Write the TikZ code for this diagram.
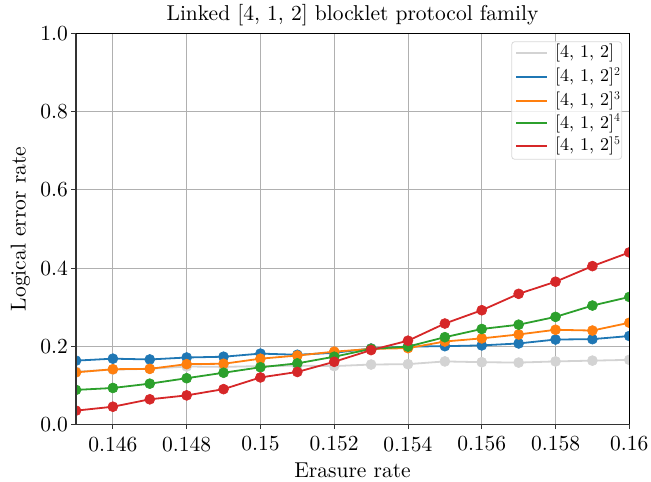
\documentclass[tikz,border=0pt]{standalone}
\usepackage{fontspec}
\setmainfont{lmroman10-regular.otf}
\usetikzlibrary{calc}
\definecolor{cgray}{HTML}{D3D3D3}
\definecolor{cblue}{HTML}{1F77B4}
\definecolor{corange}{HTML}{FF7F0E}
\definecolor{cgreen}{HTML}{2CA02C}
\definecolor{cred}{HTML}{D62728}
\definecolor{gridc}{HTML}{B0B0B0}
\tikzset{
  gridline/.style={draw=gridc, line width=0.9pt},
  series/.style={line width=1.8pt, draw=#1, mark=*, mark size=5pt,
                 mark options={solid, fill=#1, draw=#1, line width=0.6pt}},
  ticklab/.style={font=\fontsize{21.5}{26}\selectfont, inner sep=0pt},
  titlelab/.style={font=\fontsize{21.5}{26}\selectfont, inner sep=0pt},
  leglab/.style={font=\fontsize{18}{21}\selectfont, inner sep=0pt, anchor=west},
  legline/.style={line width=1.8pt, draw=#1},
}
\begin{document}
\begin{tikzpicture}[x=1pt, y=1pt]
\useasboundingbox (0,0) rectangle (651,482);
% axes area: x index 0..15 <-> 0.145..0.160, y value 0..1
\begin{scope}[shift={(76,57.7)}, x=36.887pt, y=390.6pt]
  \coordinate (ll) at (0,0);
  \coordinate (ur) at (15,1);
  % grid
  \foreach \i in {1,3,...,15} \draw[gridline] (\i,0) -- (\i,1);
  \foreach \v in {0,0.2,...,1.0} \draw[gridline] (0,\v) -- (15,\v);
  % data
  \begin{scope}
    \clip (ll) rectangle (ur);
    \draw[series=cgray] plot coordinates {(0,0.135) (1,0.140) (2,0.142) (3,0.148) (4,0.147) (5,0.149) (6,0.150) (7,0.149) (8,0.153) (9,0.154) (10,0.161) (11,0.159) (12,0.158) (13,0.161) (14,0.163) (15,0.165)};
    \draw[series=cblue] plot coordinates {(0,0.163) (1,0.168) (2,0.166) (3,0.171) (4,0.173) (5,0.181) (6,0.178) (7,0.183) (8,0.194) (9,0.199) (10,0.200) (11,0.202) (12,0.207) (13,0.217) (14,0.218) (15,0.226)};
    \draw[series=corange] plot coordinates {(0,0.133) (1,0.141) (2,0.142) (3,0.154) (4,0.155) (5,0.168) (6,0.176) (7,0.186) (8,0.193) (9,0.195) (10,0.212) (11,0.220) (12,0.230) (13,0.242) (14,0.240) (15,0.260)};
    \draw[series=cgreen] plot coordinates {(0,0.088) (1,0.093) (2,0.104) (3,0.118) (4,0.132) (5,0.146) (6,0.156) (7,0.173) (8,0.193) (9,0.199) (10,0.223) (11,0.244) (12,0.255) (13,0.275) (14,0.304) (15,0.326)};
    \draw[series=cred] plot coordinates {(0,0.035) (1,0.045) (2,0.064) (3,0.074) (4,0.090) (5,0.120) (6,0.134) (7,0.160) (8,0.190) (9,0.214) (10,0.258) (11,0.292) (12,0.334) (13,0.365) (14,0.405) (15,0.440)};
  \end{scope}
  % spines
  \draw[black, line width=0.9pt] (0,1) -- (15,1) -- (15,0);
  \draw[black!80, line width=1.3pt] (0,1) -- (0,0) -- (15,0);
  % ticks and tick labels
  \foreach \i/\lab in {1/0.146,3/0.148,5/0.15,7/0.152,9/0.154,11/0.156,13/0.158,15/0.16} {
    \draw[black!80, line width=0.9pt] (\i,0) -- ++(0,-5pt);
    \node[ticklab, anchor=north] at ($(\i,0)+(0,-12pt)$) {\lab};
  }
  \foreach \v/\lab in {0/0.0,0.2/0.2,0.4/0.4,0.6/0.6,0.8/0.8,1/1.0} {
    \draw[black!80, line width=0.9pt] (0,\v) -- ++(-5pt,0);
    \node[ticklab, anchor=east] at ($(0,\v)+(-8pt,0)$) {\lab};
  }
\end{scope}
% title and axis labels
\node[titlelab, anchor=base] (title) at (352.5,461.3) {Linked [4, 1, 2] blocklet protocol family};
\node[ticklab, anchor=base] (xlab) at (352.5,4) {Erasure rate};
\node[ticklab, anchor=base, rotate=90] (ylab) at (25.5,253) {Logical error rate};
% legend
\draw[draw=black!15, fill=white, fill opacity=0.8, line width=0.8pt, rounded corners=3pt]
  (511.7,322.7) rectangle (621.7,440.3);
\draw[legline=cgray]   (516,428.7) -- (546.7,428.7);
\draw[legline=cblue]   (516,405.0) -- (546.7,405.0);
\draw[legline=corange] (516,381.3) -- (546.7,381.3);
\draw[legline=cgreen]  (516,358.7) -- (546.7,358.7);
\draw[legline=cred]    (516,336.3) -- (546.7,336.3);
\node[leglab] (l1) at (555,428.7) {[4, 1, 2]};
\node[leglab] (l2) at (555,405.0) {[4, 1, 2]$^2$};
\node[leglab] (l3) at (555,381.3) {[4, 1, 2]$^3$};
\node[leglab] (l4) at (555,358.7) {[4, 1, 2]$^4$};
\node[leglab] (l5) at (555,336.3) {[4, 1, 2]$^5$};
\end{tikzpicture}
\end{document}
